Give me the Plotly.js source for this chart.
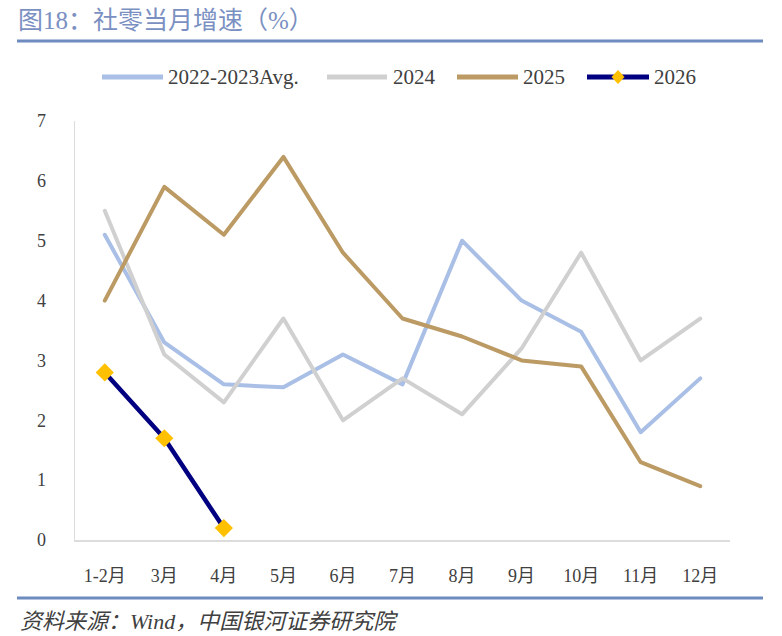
<!DOCTYPE html>
<html>
<head>
<meta charset="utf-8">
<script src="https://cdn.plot.ly/plotly-3.0.1.min.js"></script>
<style>html,body{margin:0;padding:0;background:#fff;}#chart{width:782px;height:636px;}
.scatterlayer .js-line{stroke-linecap:round !important;stroke-linejoin:round !important;}</style>
</head>
<body>
<div id="chart"></div>
<script>
const categories = ["1-2月","3月","4月","5月","6月","7月","8月","9月","10月","11月","12月"];
const avg2223 = [5.1, 3.3, 2.6, 2.55, 3.1, 2.6, 5.0, 4.0, 3.48, 1.8, 2.7];
const y2024 = [5.5, 3.1, 2.3, 3.7, 2.0, 2.7, 2.1, 3.2, 4.8, 3.0, 3.7];
const y2025 = [4.0, 5.9, 5.1, 6.4, 4.8, 3.7, 3.4, 3.0, 2.9, 1.3, 0.9];
const y2026 = [2.8, 1.7, 0.2];
const seriesNames = ["2022-2023Avg.", "2024", "2025", "2026"];
const yTicks = [0,1,2,3,4,5,6,7];

const FONT = "'Liberation Serif', 'Noto Sans CJK SC', serif";
const colors = ["#a9bfe6", "#d0d0d0", "#bc9a64", "#000080"];
const markerColor = "#ffc000";

const L = 75, R = 52, T = 121, B = 96, W = 782, H = 636;
const pw = W - L - R, ph = H - T - B;
const px = x => (x - L) / pw;
const py = y => (H - B - y) / ph;

const traces = [
  {x: categories, y: avg2223, name: seriesNames[0], mode: "lines", line: {color: colors[0], width: 4}},
  {x: categories, y: y2024, name: seriesNames[1], mode: "lines", line: {color: colors[1], width: 4}},
  {x: categories, y: y2025, name: seriesNames[2], mode: "lines", line: {color: colors[2], width: 4}},
  {x: categories.slice(0, y2026.length), y: y2026, name: seriesNames[3], mode: "lines+markers",
   line: {color: colors[3], width: 4.5},
   marker: {symbol: "diamond", size: 14, color: markerColor, line: {width: 0}}}
];

// custom legend
const legendItems = [
  {lx0: 102, lx1: 163, tx: 166},
  {lx0: 327, lx1: 387, tx: 391},
  {lx0: 457, lx1: 518, tx: 521},
  {lx0: 587, lx1: 649, tx: 652}
];
const legY = 77;
const shapes = [
  {type: "line", xref: "paper", yref: "paper", x0: px(17), x1: px(763), y0: py(41), y1: py(41), line: {color: "#6e8bbf", width: 3}},
  {type: "line", xref: "paper", yref: "paper", x0: px(17), x1: px(763), y0: py(598), y1: py(598), line: {color: "#6e8bbf", width: 3}}
];
const annotations = [
  {xref: "paper", yref: "paper", x: px(18), y: py(621), xanchor: "left", yanchor: "middle", showarrow: false,
   text: "<i>资料来源：Wind，中国银河证券研究院</i>", font: {family: FONT, size: 22, color: "#404040"}}
];
legendItems.forEach((it, i) => {
  shapes.push({type: "line", xref: "paper", yref: "paper", x0: px(it.lx0), x1: px(it.lx1), y0: py(legY), y1: py(legY),
    line: {color: colors[i], width: 5}});
  annotations.push({xref: "paper", yref: "paper", x: px(it.tx), y: py(legY), xanchor: "left", yanchor: "middle",
    showarrow: false, text: seriesNames[i], font: {family: FONT, size: 21, color: "#404040"}});
});
const d = legendItems[3];
shapes.push({type: "path", xref: "paper", yref: "paper", xsizemode: "pixel", ysizemode: "pixel",
  xanchor: px((d.lx0 + d.lx1) / 2), yanchor: py(legY),
  path: "M0,7 L6.5,0 L0,-7 L-6.5,0 Z", fillcolor: markerColor, line: {width: 0}});

const layout = {
  width: W, height: H,
  margin: {l: L, r: R, t: T, b: B},
  paper_bgcolor: "#fff", plot_bgcolor: "#fff",
  showlegend: false,
  font: {family: FONT, color: "#404040"},
  title: {text: "图18：社零当月增速（%）", xref: "container", yref: "container", x: 18 / W, y: 1 - 20 / H,
    xanchor: "left", yanchor: "middle", font: {family: FONT, size: 25, color: "#7b90c2"}},
  xaxis: {type: "category", range: [-0.5, categories.length - 0.5], showgrid: false, zeroline: false, showline: true, linecolor: "#dcdcdc", linewidth: 1.5,
    ticks: "", tickfont: {family: FONT, size: 18, color: "#404040"}, ticklabelstandoff: 19, fixedrange: true},
  yaxis: {range: [0, 7], tickvals: yTicks, showgrid: false, zeroline: false, showline: true, linecolor: "#dcdcdc", linewidth: 1.5,
    ticks: "", tickfont: {family: FONT, size: 18, color: "#404040"}, ticklabelstandoff: 24, fixedrange: true},
  shapes: shapes,
  annotations: annotations
};

Plotly.newPlot("chart", traces, layout, {displayModeBar: false, staticPlot: true});
</script>
</body>
</html>
